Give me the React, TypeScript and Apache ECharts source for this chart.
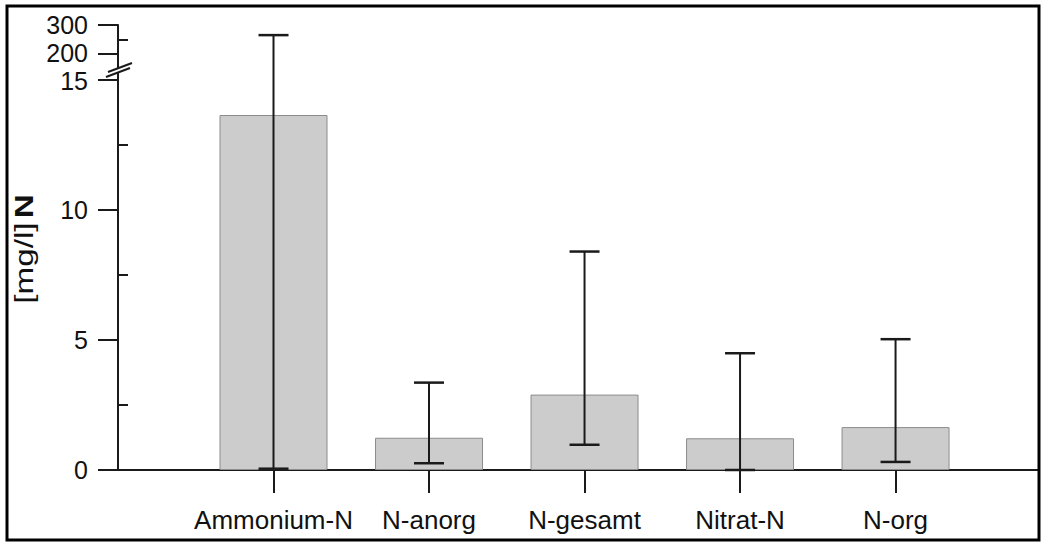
import React, { useEffect, useRef } from "react";
import * as echarts from "echarts";

// Nitrogen fractions: mean with lower / upper whisker values, in mg/l N
const categories = ["Ammonium-N", "N-anorg", "N-gesamt", "Nitrat-N", "N-org"];
const means = [13.65, 1.24, 2.9, 1.22, 1.65];
const lowerWhisker = [0.05, 0.26, 0.97, 0, 0.31];
const upperWhisker = [265, 3.36, 8.4, 4.49, 5.03];

// broken value axis: 0..15 linear, then a compressed segment 200..300
const majorTicks = [0, 5, 10, 15, 200, 300];
const minorTicks = [2.5, 7.5, 12.5, 250];

const LOWER_MAX = 15;
const UPPER_MIN = 200;
const UPPER_START = 16; // axis position of UPPER_MIN
const UPPER_UNITS_PER_STEP = 90; // real units per axis unit above the break

const toAxis = (v: number) =>
  v <= LOWER_MAX ? v : UPPER_START + (v - UPPER_MIN) / UPPER_UNITS_PER_STEP;

const Y_MAX = toAxis(300);
const X_MAX = 5.916;
const INK = "#1a1a1a";
const FONT = "'Liberation Sans', Arial, sans-serif";

// label anchors: the two labels either side of the break are nudged apart a little
const labelNudge = [0, 0, 0, -0.055, 0.04, 0];
const labelAnchors = majorTicks.map((t, i) => toAxis(t) + labelNudge[i]);
const labelFor = (a: number) => {
  let best = 0;
  labelAnchors.forEach((p, i) => {
    if (Math.abs(p - a) < Math.abs(labelAnchors[best] - a)) best = i;
  });
  return String(majorTicks[best]);
};

export default function App() {
  const ref = useRef<HTMLDivElement>(null);

  useEffect(() => {
    document.body.style.margin = "0";
    if (!ref.current) return;
    const chart = echarts.init(ref.current, null, { renderer: "svg" });

    const xPositions = categories.map((_, i) => i + 1);

    chart.setOption({
      animation: false,
      backgroundColor: "#ffffff",
      textStyle: { fontFamily: FONT },
      grid: { left: 118, right: 6, top: 25, bottom: 72, containLabel: false },
      xAxis: [
        {
          type: "value",
          min: 0,
          max: X_MAX,
          position: "bottom",
          axisLine: { show: true, lineStyle: { color: INK, width: 2 } },
          axisTick: {
            show: true,
            customValues: xPositions,
            length: 23,
            lineStyle: { color: INK, width: 2 },
          },
          axisLabel: {
            show: true,
            customValues: xPositions,
            margin: 38,
            fontSize: 26,
            lineHeight: 24,
            color: "#111",
            fontFamily: FONT,
            formatter: (v: number) => categories[Math.round(v) - 1] ?? "",
          },
          splitLine: { show: false },
        },
        {
          type: "value",
          min: 0,
          max: X_MAX,
          position: "top",
          axisLine: { show: true, lineStyle: { color: INK, width: 2 } },
          axisTick: { show: false },
          axisLabel: { show: false },
          splitLine: { show: false },
        },
      ],
      yAxis: [
        {
          type: "value",
          min: 0,
          max: Y_MAX,
          axisLine: { show: true, lineStyle: { color: INK, width: 2 } },
          axisTick: {
            show: true,
            customValues: majorTicks.map(toAxis),
            length: 20,
            lineStyle: { color: INK, width: 2 },
          },
          axisLabel: {
            show: true,
            customValues: labelAnchors,
            margin: 30,
            fontSize: 25,
            lineHeight: 20,
            color: "#111",
            fontFamily: FONT,
            formatter: (v: number) => labelFor(v),
          },
          splitLine: { show: false },
        },
        {
          type: "value",
          min: 0,
          max: Y_MAX,
          axisLine: { show: false },
          axisTick: {
            show: true,
            customValues: minorTicks.map(toAxis),
            length: 10,
            lineStyle: { color: INK, width: 2 },
          },
          axisLabel: { show: false },
          splitLine: { show: false },
        },
      ],
      series: [
        {
          type: "bar",
          xAxisIndex: 0,
          yAxisIndex: 0,
          barWidth: 108,
          itemStyle: { color: "#cccccc", borderColor: "#8c8c8c", borderWidth: 1 },
          data: means.map((m, i) => [xPositions[i], toAxis(m)]),
          z: 2,
        },
        {
          type: "custom",
          xAxisIndex: 0,
          yAxisIndex: 0,
          z: 5,
          data: categories.map((_, i) => [
            xPositions[i],
            toAxis(lowerWhisker[i]),
            toAxis(upperWhisker[i]),
          ]),
          renderItem: (_params: any, api: any) => {
            const x = api.value(0);
            const pLo = api.coord([x, api.value(1)]);
            const pHi = api.coord([x, api.value(2)]);
            const half = 15;
            const style = { stroke: INK, lineWidth: 2 };
            return {
              type: "group",
              children: [
                { type: "line", shape: { x1: pLo[0], y1: pLo[1], x2: pHi[0], y2: pHi[1] }, style },
                { type: "line", shape: { x1: pLo[0] - half, y1: pLo[1], x2: pLo[0] + half, y2: pLo[1] }, style: { stroke: INK, lineWidth: 2.5 } },
                { type: "line", shape: { x1: pHi[0] - half, y1: pHi[1], x2: pHi[0] + half, y2: pHi[1] }, style: { stroke: INK, lineWidth: 2.5 } },
              ],
            };
          },
        },
      ],
      graphic: [
        // outer frame
        {
          type: "rect",
          shape: { x: 7, y: 6, width: 1032, height: 534 },
          style: { fill: "none", stroke: "#000", lineWidth: 3 },
          z: 100,
        },
        // axis break marker
        {
          type: "polygon",
          shape: { points: [[108, 72], [132, 63], [130, 68], [106, 77]] },
          style: { fill: "#ffffff", stroke: "none" },
          z: 100,
        },
        {
          type: "line",
          shape: { x1: 108, y1: 72, x2: 132, y2: 63 },
          style: { stroke: INK, lineWidth: 2 },
          z: 101,
        },
        {
          type: "line",
          shape: { x1: 106, y1: 77, x2: 130, y2: 68 },
          style: { stroke: INK, lineWidth: 2 },
          z: 101,
        },
        // y-axis title
        {
          type: "text",
          x: 24,
          y: 249,
          rotation: Math.PI / 2,
          scaleX: 1.28,
          style: {
            text: "{a|[mg/l]} {b|N}",
            align: "center",
            verticalAlign: "middle",
            rich: {
              a: { fontSize: 26, fontFamily: FONT, fill: "#111" },
              b: { fontSize: 26, fontFamily: FONT, fontWeight: "bold", fill: "#111" },
            },
          },
          z: 100,
        },
      ],
    });

    return () => chart.dispose();
  }, []);

  return (
    <div
      ref={ref}
      style={{ position: "absolute", left: 0, top: 0, width: 1044, height: 542 }}
    />
  );
}
